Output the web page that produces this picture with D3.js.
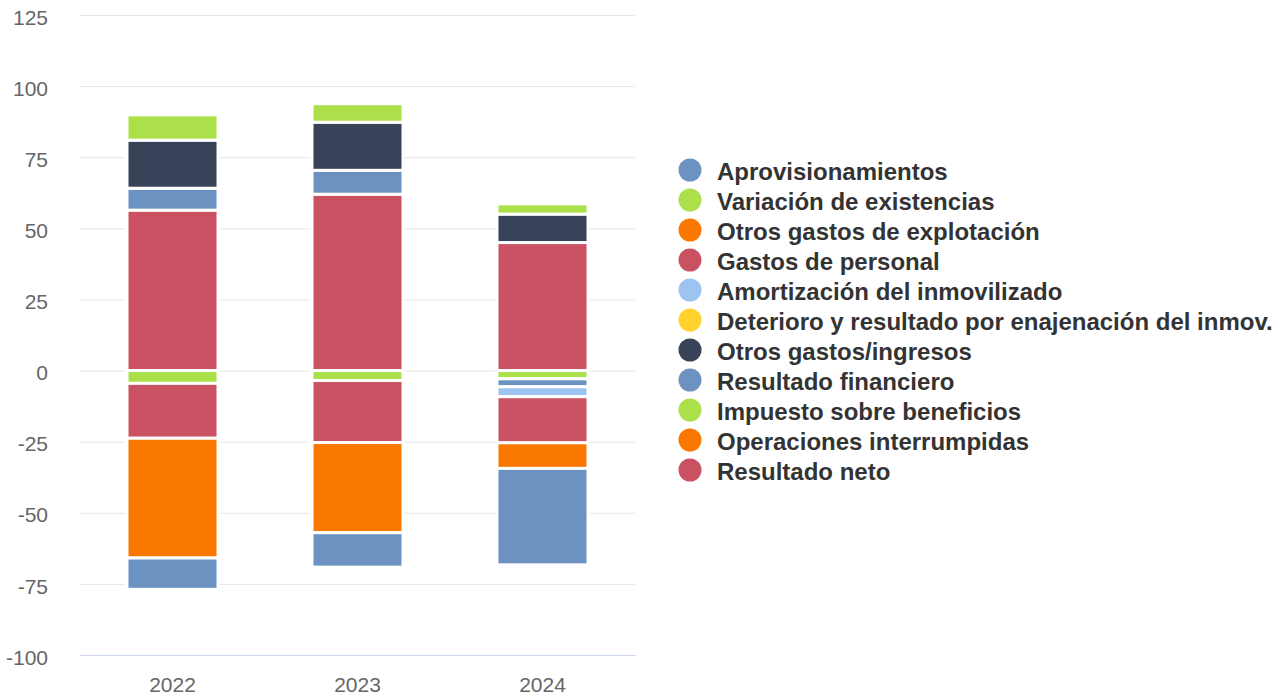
<!DOCTYPE html>
<html>
<head>
<meta charset="utf-8">
<script src="https://cdn.jsdelivr.net/npm/d3@7"></script>
<style>
  body { margin: 0; background: #fff; }
  .tick text { font-family: "Liberation Sans", Arial, sans-serif; fill: #666; }
  .legend text { font-family: "Liberation Sans", Arial, sans-serif; font-weight: bold; fill: #333; }
</style>
</head>
<body>
<div class="chart"></div>
<script>
// Stacked columns, positive and negative stacks per year

var categories = ["2022", "2023", "2024"];

var seriesNames = [
  "Aprovisionamientos",
  "Variación de existencias",
  "Otros gastos de explotación",
  "Gastos de personal",
  "Amortización del inmovilizado",
  "Deterioro y resultado por enajenación del inmov.",
  "Otros gastos/ingresos",
  "Resultado financiero",
  "Impuesto sobre beneficios",
  "Operaciones interrumpidas",
  "Resultado neto"
];

var seriesColors = ["#6c92c2", "#abe04a", "#fb7800", "#c95161", "#9dc3f0", "#ffd22e",
  "#384259", "#6c92c2", "#abe04a", "#fb7800", "#c95161"];

// values, one per year
var aprovisionamientos = [-11.0, -12.1, -33.9];
var variacionExistencias = [8.9, 6.5, 3.6];
var otrosGastosExplotacion = [-42.1, -31.7, -9.0];
var gastosPersonal = [-19.3, -21.8, -16.2];
var amortizacion = [0, 0, -3.5];
var deterioro = [0, 0, 0];
var otrosGastosIngresos = [16.9, 16.9, 10.0];
var resultadoFinanciero = [7.7, 8.4, -2.8];
var impuesto = [-4.5, -3.5, -2.9];
var operacionesInterrumpidas = [0, 0, 0];
var resultadoNeto = [56.4, 62.0, 45.0];

var yTicks = [-100, -75, -50, -25, 0, 25, 50, 75, 100, 125];

var seriesValues = [aprovisionamientos, variacionExistencias, otrosGastosExplotacion,
  gastosPersonal, amortizacion, deterioro, otrosGastosIngresos, resultadoFinanciero,
  impuesto, operacionesInterrumpidas, resultadoNeto];

var svgWidth = 1283;
var svgHeight = 697;

var svg = d3.select(".chart")
  .append("svg")
  .attr("width", svgWidth)
  .attr("height", svgHeight);

// scales
var xScale = d3.scaleBand()
  .domain(categories)
  .range([80, 635])
  .paddingInner(0.508)
  .paddingOuter(0.254);

var yScale = d3.scaleLinear()
  .domain([-100, 125])
  .range([655, 15]);

// gridlines + y labels (plain hyphen for negatives)
var yAxis = svg.append("g")
  .attr("transform", "translate(80,0)")
  .call(d3.axisLeft(yScale).tickValues(yTicks).tickSize(-555).tickPadding(32)
    .tickFormat(d => String(d)));

yAxis.select(".domain").remove();
yAxis.selectAll(".tick line").attr("stroke", "#e6e6e6");
yAxis.selectAll(".tick text")
  .attr("font-size", 21)
  .attr("dy", "0.72em")
  .attr("y", -6);

// x axis
var xAxis = svg.append("g")
  .attr("transform", "translate(0,655)")
  .call(d3.axisBottom(xScale).tickSize(0).tickPadding(22));

xAxis.select(".domain").attr("stroke", "#ccd6eb");
xAxis.selectAll(".tick text").attr("font-size", 21);

// build stacks, last series sits next to zero
var segments = [];
categories.forEach(function (cat, ci) {
  var posBase = 0, negBase = 0;
  for (var si = seriesValues.length - 1; si >= 0; si--) {
    var v = seriesValues[si][ci];
    if (!v) continue;
    if (v > 0) {
      segments.push({ cat: cat, s: si, y0: posBase, y1: posBase + v });
      posBase += v;
    } else {
      segments.push({ cat: cat, s: si, y0: negBase + v, y1: negBase });
      negBase += v;
    }
  }
});

svg.append("g")
  .selectAll("rect")
  .data(segments)
  .enter()
  .append("rect")
  .attr("x", d => xScale(d.cat))
  .attr("width", xScale.bandwidth())
  .attr("y", d => yScale(d.y1))
  .attr("height", d => yScale(d.y0) - yScale(d.y1))
  .attr("fill", d => seriesColors[d.s])
  .attr("stroke", "#fff")
  .attr("stroke-width", 3);

// legend
var legend = svg.append("g")
  .attr("class", "legend")
  .attr("transform", "translate(690,170)");

var items = legend.selectAll("g")
  .data(seriesNames)
  .enter()
  .append("g")
  .attr("transform", (d, i) => `translate(0, ${i * 30})`);

items.append("circle")
  .attr("r", 11.5)
  .attr("fill", (d, i) => seriesColors[i]);

items.append("text")
  .attr("x", 27)
  .attr("y", 10)
  .attr("font-size", 24)
  .text(d => d);
</script>
</body>
</html>
